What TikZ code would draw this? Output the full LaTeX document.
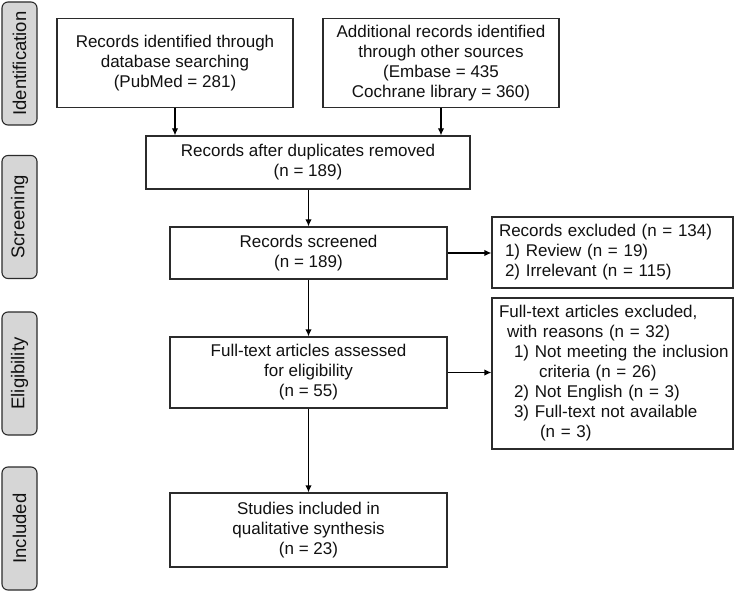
\documentclass[tikz,border=0pt]{standalone}
\usepackage{fontspec}
\setmainfont{Liberation Sans}
\usetikzlibrary{arrows.meta}
\definecolor{linec}{HTML}{2B2B2B}
\definecolor{textc}{HTML}{111111}
\definecolor{sidefill}{HTML}{D6D6D6}
\newcommand\mainfs{\fontsize{17}{20}\selectfont}
\newcommand\sidefs{\fontsize{18.5}{20}\selectfont}
\begin{document}
\begin{tikzpicture}[x=1pt,y=-1pt,
  box/.style={draw=linec, line width=1.3pt, fill=white, inner sep=0pt, align=center, font=\mainfs, text=textc},
  listbox/.style={draw=linec, line width=1.3pt, fill=white, inner xsep=7pt, inner ysep=0pt, align=left, text width=227pt, font=\mainfs, text=textc},
  sidebox/.style={draw=linec, line width=1.1pt, fill=sidefill, rounded corners=6pt, rotate=90, minimum width=123pt, minimum height=35pt, inner sep=0pt, font=\sidefs, text=textc},
  arr/.style={draw=black, line width=1.3pt, -{Latex[length=7pt,width=6.5pt]}}
]
\path[fill=white,use as bounding box] (0,0) rectangle (735,593);

% side labels
\node[sidebox] (sid) at (19.5,63.5) {Identification};
\node[sidebox] (sscr) at (19.5,217) {Screening};
\node[sidebox] (selg) at (19.5,373.5) {Eligibility};
\node[sidebox] (sinc) at (19.5,528.5) {Included};

% boxes
\node[box, minimum width=236pt, minimum height=89pt] (A) at (175,63)
  {Records identified through\\database searching\\(PubMed = 281)};
\node[box, minimum width=236pt, minimum height=89pt] (B) at (441,63)
  {Additional records identified\\through other sources\\(Embase = 435\\Cochrane library = 360)};
\node[box, minimum width=324pt, minimum height=53pt] (C) at (308,162.5)
  {Records after duplicates removed\\(n = 189)};
\node[box, minimum width=277pt, minimum height=52pt] (D) at (308.5,253)
  {Records screened\\(n = 189)};
\node[listbox, minimum height=71pt] (E) at (612.5,252.5)
  {\mbox{Records excluded (n = 134)}\\
   \hspace*{6pt}\mbox{1) Review (n = 19)}\\
   \hspace*{6pt}\mbox{2) Irrelevant (n = 115)}};
\node[listbox, minimum height=151pt] (F) at (612.5,373.5)
  {\mbox{Full-text articles excluded,}\\
   \hspace*{8pt}\mbox{with reasons (n = 32)}\\
   \hspace*{15pt}\mbox{1) Not meeting the inclusion}\\
   \hspace*{40pt}\mbox{criteria (n = 26)}\\
   \hspace*{15pt}\mbox{2) Not English (n = 3)}\\
   \hspace*{15pt}\mbox{3) Full-text not available}\\
   \hspace*{41pt}\mbox{(n = 3)}};
\node[box, minimum width=277pt, minimum height=71pt] (G) at (308.5,372.5)
  {Full-text articles assessed\\for eligibility\\(n = 55)};
\node[box, minimum width=277pt, minimum height=74pt] (H) at (308.5,530)
  {Studies included in\\qualitative synthesis\\(n = 23)};

% connectors
\draw[arr] (A.south) -- (A.south |- C.north);
\draw[arr] (B.south) -- (B.south |- C.north);
\draw[arr] (D.north |- C.south) -- (D.north);
\draw[arr] (D.east) -- (D.east -| E.west);
\draw[arr] (D.south) -- (G.north);
\draw[arr] (G.east) -- (G.east -| F.west);
\draw[arr] (G.south) -- (H.north);
\end{tikzpicture}
\end{document}
